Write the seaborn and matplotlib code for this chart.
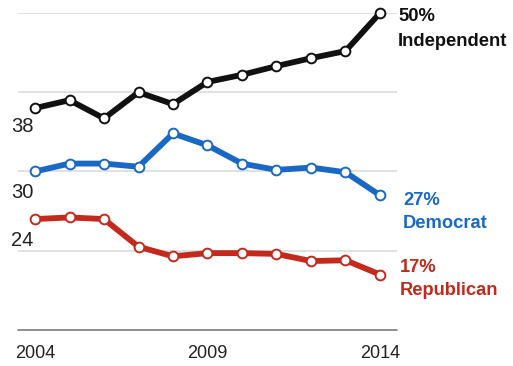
import matplotlib
matplotlib.use("Agg")
import matplotlib.pyplot as plt
import seaborn as sns
import pandas as pd

# Party identification, share of adults (%)
years = list(range(2004, 2015))
independent = [38, 39, 36.7, 40, 38.5, 41.3, 42.2, 43.3, 44.3, 45.2, 50]
democrat = [30, 31, 31, 30.6, 34.8, 33.3, 31, 30.2, 30.5, 29.9, 27]
republican = [24, 24.2, 24, 20.5, 19.3, 19.7, 19.7, 19.6, 18.7, 18.8, 17]

parties = ["Independent", "Democrat", "Republican"]
colors = ["#111111", "#1a68c6", "#c42a1c"]
start_labels = ["38", "30", "24"]
end_labels = ["50%", "27%", "17%"]
tick_years = [2004, 2009, 2014]
grid_levels = [20, 30, 40, 50]

df = pd.DataFrame({
    "year": years * 3,
    "share": independent + democrat + republican,
    "party": [p for p in parties for _ in years],
})

sns.set_theme(style="white")
plt.rcParams["font.family"] = ["Liberation Sans", "DejaVu Sans"]

W, H = 513, 366
fig = plt.figure(figsize=(W / 100, H / 100), dpi=100)
ax = fig.add_axes([18 / W, (H - 330) / H, 379 / W, 317 / H])

for lvl in grid_levels:
    ax.axhline(lvl, color="#dcdcdc", lw=1.2, zorder=0)
ax.axhline(10, color="#7a7a7a", lw=1.2, zorder=0, clip_on=False)

sns.lineplot(
    data=df, x="year", y="share", hue="party", hue_order=parties,
    palette=dict(zip(parties, colors)), linewidth=4.2, marker="o",
    markersize=7, markerfacecolor="white", markeredgewidth=1.4,
    legend=False, ax=ax, clip_on=False, zorder=3,
)
for line, c in zip(ax.lines[-3:], colors):
    line.set_markeredgecolor(c)

ax.set_xlim(2004 - 17 / 34.5, 2014 + 17 / 34.5)
ax.set_ylim(10, 50)

series = [independent, democrat, republican]
start_dy = [-18, -21, -21]
end_dx = [18, 23, 20]
end_dy = [[-4, -29], [-5, -28], [7, -16]]
for vals, c, sl, el, sdy, edx, edy, name in zip(
        series, colors, start_labels, end_labels, start_dy, end_dx, end_dy, parties):
    ax.annotate(sl, (years[0], vals[0]), xytext=(-24, sdy),
                textcoords="offset pixels", ha="left", va="center",
                fontsize=14.5, color="#222222")
    ax.annotate(el, (years[-1], vals[-1]), xytext=(edx, edy[0]),
                textcoords="offset pixels", ha="left", va="center",
                fontsize=13.2, fontweight="bold", color=c)
    ax.annotate(name, (years[-1], vals[-1]), xytext=(edx, edy[1]),
                textcoords="offset pixels", ha="left", va="center",
                fontsize=13.2, fontweight="bold", color=c)

ax.set_xticks(tick_years)
ax.set_xticklabels([str(y) for y in tick_years], fontsize=13, color="#222222")
ax.tick_params(axis="x", length=0, pad=11)
ax.set_yticks([])
ax.set_xlabel("")
ax.set_ylabel("")
for s in ax.spines.values():
    s.set_visible(False)

fig.savefig("out.png", dpi=100, facecolor="white")
